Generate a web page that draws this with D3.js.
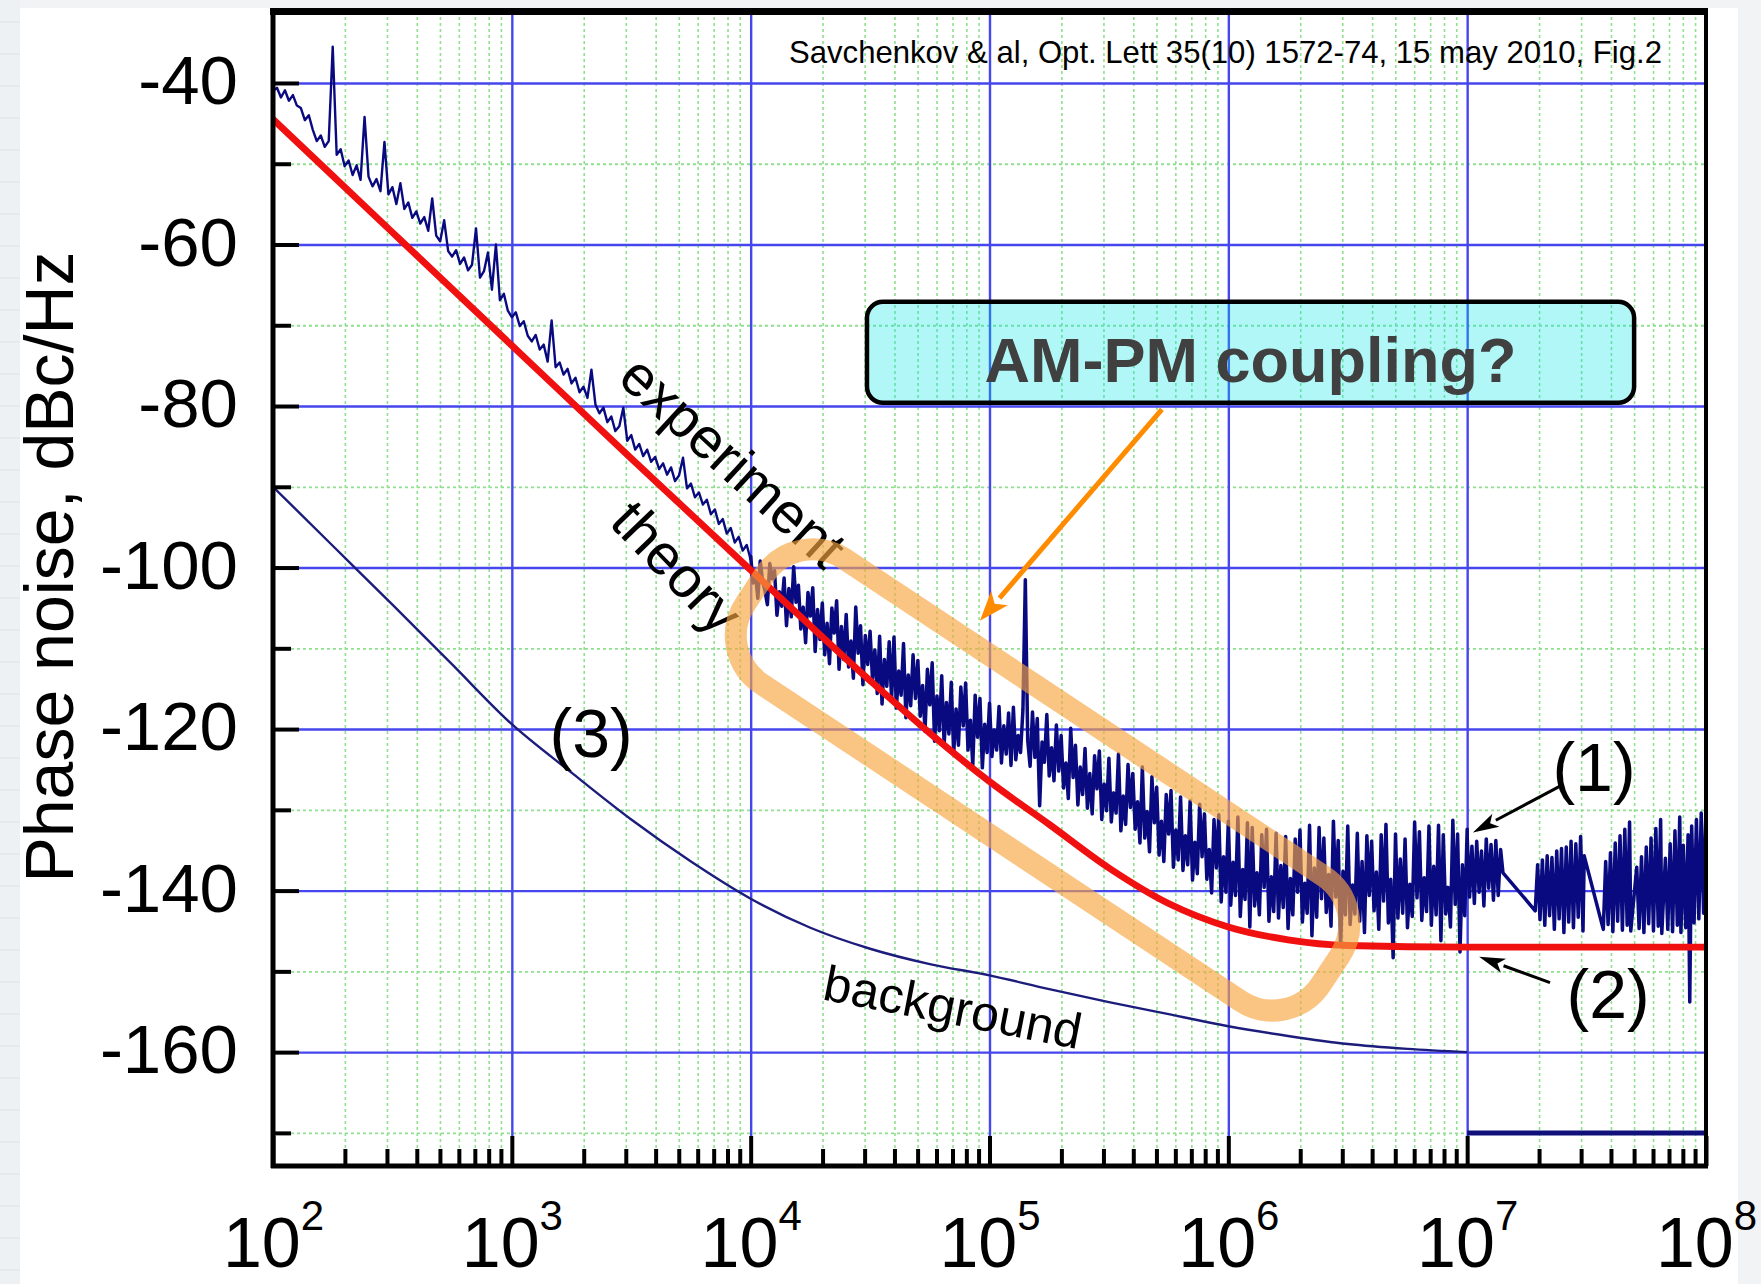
<!DOCTYPE html>
<html>
<head>
<meta charset="utf-8">
<script src="https://cdn.jsdelivr.net/npm/d3@7"></script>
<style>
  html, body { margin: 0; padding: 0; background: #fff; }
  svg { display: block; }
  text { font-family: "Liberation Sans", Arial, Helvetica, sans-serif; }
</style>
</head>
<body>
<svg id="chart" width="1761" height="1284"></svg>
<script>
// ---------------- data ----------------
// frequency axis (Hz), one label per decade
const freqDecades = [1e2, 1e3, 1e4, 1e5, 1e6, 1e7, 1e8];
const decadeExponents = ["2", "3", "4", "5", "6", "7", "8"];
// phase-noise axis (dBc/Hz)
const dbMajorTicks = [-40, -60, -80, -100, -120, -140, -160];
const dbMinorTicks = [-50, -70, -90, -110, -130, -150, -170];

// (2) theory: [log10 f, dBc/Hz]
const theoryCurve = [
  [2.0, -44.5], [2.5, -58.5], [3.0, -72.5], [3.5, -86.5], [4.0, -100.3],
  [4.5, -114.0], [4.75, -120.5], [5.0, -126.5], [5.25, -131.8], [5.5, -137.2],
  [5.75, -141.6], [6.0, -144.5], [6.25, -146.1], [6.5, -146.8], [7.0, -147.0], [8.0, -147.0]
];

// (3) measurement background: [log10 f, dBc/Hz]
const backgroundCurve = [
  [2.0, -90.0], [2.25, -97.3], [2.5, -104.6], [2.75, -112.0], [3.0, -119.4],
  [3.25, -125.4], [3.5, -131.2], [3.75, -136.4], [4.0, -141.0], [4.25, -144.6],
  [4.5, -147.2], [4.75, -149.1], [5.0, -150.5], [5.25, -152.2], [5.5, -153.8],
  [5.75, -155.3], [6.0, -156.8], [6.25, -158.0], [6.5, -159.0], [6.75, -159.6], [7.0, -160.0]
];
const backgroundFloor = [[7.0, -170.0], [8.0, -170.0]];

// (1) experiment, 10^2..10^4 Hz, 60 bins per decade
const expLowDb = [
  -41.0, -40.6, -41.8, -40.9, -42.2, -41.5, -42.8, -43.1, -44.6, -44.0,
  -45.8, -47.2, -46.5, -47.9, -47.2, -35.5, -48.9, -48.2, -50.3, -49.6,
  -51.4, -50.2, -52.0, -44.2, -51.6, -52.8, -51.9, -53.4, -47.3, -53.8,
  -52.9, -55.0, -52.4, -55.6, -54.8, -56.7, -55.9, -57.4, -56.6, -58.3,
  -54.3, -58.9, -59.6, -57.0, -60.8, -61.5, -60.7, -62.4, -61.6, -63.2,
  -62.5, -58.0, -64.1, -63.3, -61.0, -65.6, -60.0, -66.9, -66.1, -68.2,
  -69.0, -68.4, -70.1, -69.5, -71.3, -72.0, -71.2, -73.0, -72.4, -74.5,
  -69.4, -75.2, -74.6, -76.1, -75.4, -77.2, -76.5, -78.3, -77.6, -79.0,
  -75.5, -79.8, -80.9, -80.2, -82.0, -81.3, -83.1, -82.5, -80.2, -84.3,
  -83.6, -85.4, -84.7, -86.2, -85.4, -86.9, -86.3, -87.8, -87.1, -88.5,
  -87.6, -89.3, -88.6, -86.4, -90.2, -89.6, -91.3, -90.7, -92.2, -91.6,
  -93.4, -92.8, -94.6, -94.0, -95.8, -95.1, -96.9, -96.2, -97.9, -97.2,
  -99.0
];

// (1) experiment, 10^4..10^7 Hz, 100 bins per decade
const expMidDb = [
  -98.6, -101.9, -100.8, -103.8, -99.2, -101.7, -102.9, -104.6, -99.5, -101.4,
  -100.4, -105.9, -103.0, -104.8, -101.3, -107.2, -102.6, -106.1, -99.9, -104.3,
  -102.2, -107.6, -104.9, -109.3, -103.1, -106.0, -102.5, -110.4, -105.2, -108.9,
  -104.4, -110.8, -106.9, -111.9, -105.0, -108.1, -104.1, -112.6, -107.3, -111.4,
  -105.8, -112.3, -109.1, -113.7, -104.9, -110.6, -107.2, -114.5, -108.4, -112.0,
  -107.9, -113.8, -110.2, -115.6, -108.5, -116.9, -111.4, -114.7, -109.2, -116.3,
  -108.6, -117.4, -112.8, -115.8, -109.4, -118.6, -113.3, -117.1, -110.8, -116.2,
  -111.5, -118.4, -114.6, -120.3, -112.6, -117.0, -111.8, -121.5, -115.9, -120.2,
  -113.4, -121.9, -116.7, -120.6, -114.2, -123.1, -117.5, -122.0, -114.8, -119.6,
  -114.3, -122.6, -118.9, -124.5, -115.8, -121.0, -116.2, -124.8, -119.4, -122.9,
  -116.8, -123.4, -120.1, -122.6, -117.2, -124.2, -119.6, -123.1, -118.0, -124.5,
  -117.3, -123.8, -120.8, -122.9, -117.6, -101.5, -121.4, -124.6, -117.9, -123.5,
  -118.7, -129.5, -121.6, -124.1, -118.2, -125.8, -122.3, -126.4, -119.5, -125.2,
  -120.8, -127.3, -124.2, -128.6, -119.9, -126.0, -122.0, -129.4, -124.7, -128.1,
  -122.4, -129.8, -125.5, -130.5, -123.3, -127.4, -122.7, -131.2, -126.8, -130.1,
  -123.6, -131.5, -127.9, -130.4, -123.1, -132.6, -128.3, -131.8, -124.4, -129.7,
  -125.5, -132.4, -129.0, -134.1, -124.7, -133.5, -130.2, -135.2, -125.9, -131.6,
  -127.2, -135.6, -131.4, -136.4, -128.1, -133.0, -127.6, -137.1, -132.5, -136.2,
  -128.4, -137.5, -133.2, -136.8, -128.9, -138.7, -134.0, -137.9, -129.3, -135.8,
  -130.5, -138.6, -134.9, -140.3, -131.2, -137.2, -130.6, -141.4, -135.8, -140.2,
  -131.4, -141.8, -136.5, -140.6, -130.9, -143.2, -137.4, -141.1, -131.6, -144.5,
  -132.2, -141.9, -137.8, -143.0, -133.1, -139.6, -132.4, -143.8, -138.3, -142.6,
  -132.9, -143.4, -136.9, -142.1, -133.3, -144.7, -138.5, -143.0, -133.6, -140.2,
  -132.5, -143.9, -139.1, -142.8, -131.9, -145.6, -137.2, -143.3, -132.2, -141.0,
  -133.5, -142.7, -138.0, -144.4, -131.4, -140.8, -133.8, -146.9, -137.6, -143.0,
  -132.0, -144.2, -139.3, -142.9, -132.9, -143.8, -136.4, -145.2, -133.2, -140.6,
  -133.9, -142.5, -137.7, -144.8, -133.1, -141.3, -131.8, -144.0, -138.6, -148.3,
  -133.0, -143.4, -136.1, -142.8, -133.6, -144.6, -139.2, -143.2, -131.5, -140.9,
  -132.7, -143.7, -138.4, -142.6, -132.0, -144.3, -137.0, -143.0, -131.9, -146.2,
  -133.1, -142.9, -139.6, -144.5, -131.3, -141.7, -133.0, -147.6, -136.8, -143.1,
  -132.4
];

// (1) experiment, 10^7..10^8 Hz: recorded in bursts, [log10 f, dBc/Hz]
const expHighPts = [
  [7.00, -133.2], [7.01, -140.8], [7.02, -134.5], [7.03, -141.6], [7.04, -133.9],
  [7.05, -140.2], [7.06, -135.1], [7.07, -141.9], [7.08, -133.6], [7.09, -139.7],
  [7.10, -134.3], [7.11, -141.2], [7.12, -133.8], [7.13, -140.6], [7.14, -134.9],
  [7.15, -137.8], [7.285, -142.5],
  [7.295, -136.8], [7.305, -143.6], [7.315, -136.2], [7.325, -144.3], [7.335, -135.7],
  [7.345, -143.1], [7.355, -135.9], [7.365, -144.8], [7.375, -135.1], [7.385, -143.5],
  [7.395, -134.8], [7.405, -145.2], [7.415, -134.6], [7.425, -143.9], [7.435, -133.9],
  [7.445, -144.6], [7.455, -134.2], [7.465, -143.3], [7.475, -133.3], [7.485, -145.0],
  [7.49, -135.7], [7.57, -144.8],
  [7.58, -136.4], [7.59, -144.2], [7.60, -135.3], [7.61, -145.1], [7.62, -134.1],
  [7.63, -143.8], [7.64, -133.2], [7.65, -144.9], [7.66, -132.4], [7.67, -144.3],
  [7.68, -131.5], [7.685, -145.0],
  [7.71, -137.1], [7.72, -144.7], [7.73, -135.8], [7.74, -145.2], [7.75, -134.6],
  [7.76, -144.1], [7.77, -133.5], [7.78, -145.0], [7.79, -132.3], [7.80, -144.4],
  [7.81, -131.2], [7.815, -145.3],
  [7.83, -136.0], [7.84, -144.8], [7.85, -134.2], [7.86, -145.1], [7.87, -132.6],
  [7.88, -144.3], [7.89, -130.9], [7.895, -145.2],
  [7.905, -134.4], [7.915, -144.6], [7.925, -133.1], [7.932, -153.8], [7.94, -132.0],
  [7.95, -144.0], [7.96, -131.2], [7.97, -143.5], [7.98, -130.4], [7.99, -142.8], [8.0, -129.8]
];

// ---------------- layout ----------------
const W = 1761, H = 1284;
const plot = { left: 273, right: 1706, top: 11.5, bottom: 1166 };
const x = d3.scaleLog().domain([1e2, 1e8]).range([plot.left, plot.right]);
const y = d3.scaleLinear().domain([-174.1, -31.15]).range([plot.bottom, plot.top]);
const fx = lg => x(Math.pow(10, lg));
const plotW = plot.right - plot.left, plotH = plot.bottom - plot.top;

const NAVY = "#0a0a80";
const svg = d3.select("#chart");

// page backdrop
svg.append("rect").attr("width", W).attr("height", H).attr("fill", "#ffffff");
svg.append("rect").attr("x", 0).attr("y", 0).attr("width", 20).attr("height", H).attr("fill", "#eef1f4");
svg.append("g").selectAll("line").data(d3.range(22, H, 32)).join("line")
  .attr("x1", 0).attr("x2", 20).attr("y1", d => d).attr("y2", d => d)
  .attr("stroke", "#e0e6eb").attr("stroke-width", 1.5);
svg.append("rect").attr("x", 20).attr("y", 0).attr("width", W - 20).attr("height", 8).attr("fill", "#f1f3f5");
svg.append("rect").attr("x", 1738).attr("y", 0).attr("width", W - 1738).attr("height", H).attr("fill", "#f1f3f5");

// minor tick positions: 2..9 x each decade
const minorX = [];
for (let e = 2; e < 8; e++) for (let k = 2; k <= 9; k++) minorX.push(k * Math.pow(10, e));

// ---------- grid ----------
const grid = svg.append("g");
function gridX(values, color, width, dash) {
  grid.append("g").attr("transform", `translate(0,${plot.bottom})`)
    .call(d3.axisBottom(x).tickValues(values).tickSize(-plotH).tickFormat(""))
    .call(g => g.select(".domain").remove())
    .selectAll("line").attr("stroke", color).attr("stroke-width", width).attr("stroke-dasharray", dash);
}
function gridY(values, color, width, dash) {
  grid.append("g").attr("transform", `translate(${plot.left},0)`)
    .call(d3.axisLeft(y).tickValues(values).tickSize(-plotW).tickFormat(""))
    .call(g => g.select(".domain").remove())
    .selectAll("line").attr("stroke", color).attr("stroke-width", width).attr("stroke-dasharray", dash);
}
gridX(minorX, "#8fe08f", 1.6, "3,3");
gridY(dbMinorTicks, "#8fe08f", 1.8, "3,3");
gridX(freqDecades, "#4646ee", 2.4, null);
gridY(dbMajorTicks, "#4646ee", 2.4, null);

// ---------- curves ----------
svg.append("clipPath").attr("id", "plotClip")
  .append("rect").attr("x", plot.left).attr("y", plot.top).attr("width", plotW).attr("height", plotH);
const data = svg.append("g").attr("clip-path", "url(#plotClip)");
const lineLg = d3.line().x(d => fx(d[0])).y(d => y(d[1]));
const smoothLg = d3.line().x(d => fx(d[0])).y(d => y(d[1])).curve(d3.curveMonotoneX);

data.append("path").attr("d", smoothLg(backgroundCurve))
  .attr("fill", "none").attr("stroke", "#1c1c7c").attr("stroke-width", 2.4);
data.append("path").attr("d", lineLg(backgroundFloor))
  .attr("fill", "none").attr("stroke", "#10107a").attr("stroke-width", 5);

// low-frequency part: single resolved trace
const expLowPts = expLowDb.map((v, i) => [2 + i / 60, v]);
// above 10 kHz: dense noise band
const expBandPts = expMidDb.map((v, j) => [4 + j / 100, v]).concat(expHighPts);
data.append("path").attr("d", lineLg(expLowPts))
  .attr("fill", "none").attr("stroke", NAVY).attr("stroke-width", 2.4)
  .attr("stroke-linejoin", "round");
data.append("path").attr("d", lineLg([expLowPts[expLowPts.length - 1]].concat(expBandPts)))
  .attr("fill", "none").attr("stroke", NAVY).attr("stroke-width", 3.5)
  .attr("stroke-linejoin", "round");

data.append("path").attr("d", smoothLg(theoryCurve))
  .attr("fill", "none").attr("stroke", "#f01010").attr("stroke-width", 6.8);

// ---------- axes ----------
const axes = svg.append("g");
function styleTicks(g) {
  g.select(".domain").remove();
  g.selectAll(".tick line").attr("stroke", "#000").attr("stroke-width", 4);
}
// bottom
axes.append("g").attr("transform", `translate(0,${plot.bottom})`)
  .call(d3.axisBottom(x).tickValues(minorX).tickSize(-17).tickFormat(""))
  .call(styleTicks);
const bottomAxis = axes.append("g").attr("transform", `translate(0,${plot.bottom})`)
  .call(d3.axisBottom(x).tickValues(freqDecades).tickSize(-30).tickFormat(""))
  .call(styleTicks);
bottomAxis.selectAll(".tick text").each(function (d, i) {
  const t = d3.select(this).attr("y", 101).attr("dy", 0)
    .attr("fill", "#000").attr("font-size", 70).attr("text-anchor", "middle");
  t.text(null);
  t.append("tspan").text("10");
  t.append("tspan").attr("dy", -37).attr("font-size", 42).text(decadeExponents[i]);
});
// left
axes.append("g").attr("transform", `translate(${plot.left},0)`)
  .call(d3.axisLeft(y).tickValues(dbMinorTicks).tickSize(-18).tickFormat(""))
  .call(styleTicks);
axes.append("g").attr("transform", `translate(${plot.left},0)`)
  .call(d3.axisLeft(y).tickValues(dbMajorTicks).tickSize(-26).tickPadding(35).tickFormat(d => String(d)))
  .call(styleTicks)
  .call(g => g.selectAll(".tick text").attr("font-size", 69).attr("fill", "#000").attr("dy", "0.3em"));

// frame
axes.append("line").attr("x1", plot.left - 3).attr("x2", plot.right + 2).attr("y1", plot.top).attr("y2", plot.top)
  .attr("stroke", "#000").attr("stroke-width", 7);
axes.append("line").attr("x1", plot.left - 2).attr("x2", plot.right + 2).attr("y1", plot.bottom).attr("y2", plot.bottom)
  .attr("stroke", "#000").attr("stroke-width", 5);
axes.append("line").attr("x1", plot.left).attr("x2", plot.left).attr("y1", plot.top).attr("y2", plot.bottom + 2)
  .attr("stroke", "#000").attr("stroke-width", 5);
axes.append("line").attr("x1", plot.right).attr("x2", plot.right).attr("y1", plot.top).attr("y2", plot.bottom + 2)
  .attr("stroke", "#000").attr("stroke-width", 4);

// axis title
svg.append("text").attr("transform", `translate(73,567) rotate(-90)`)
  .attr("text-anchor", "middle").attr("font-size", 68).attr("fill", "#000")
  .text("Phase noise, dBc/Hz");

// ---------- annotations (placed in data coordinates) ----------
const notes = svg.append("g");
function label(lg, db, angle, size, txt, shift) {
  notes.append("text")
    .attr("transform", `translate(${fx(lg)},${y(db)}) rotate(${angle})`)
    .attr("text-anchor", "middle").attr("dy", shift).attr("font-size", size).attr("fill", "#000")
    .text(txt);
}
label(3.913, -87.3, 42.5, 57, "experiment", "0.26em");
label(3.692, -99.9, 46, 57, "theory", "0.35em");
label(4.847, -154.4, 11, 50, "background", "0.35em");
label(3.332, -120.96, 0, 68, "(3)", "0.3em");
label(7.531, -125.1, 0, 68, "(1)", "0.3em");
label(7.590, -153.3, 0, 68, "(2)", "0.3em");

function arrow(g, lg0, db0, lg1, db1, color, width, headLen, headW) {
  const x0 = fx(lg0), y0 = y(db0), x1 = fx(lg1), y1 = y(db1);
  const ang = Math.atan2(y1 - y0, x1 - x0);
  const bx = x1 - headLen * Math.cos(ang), by = y1 - headLen * Math.sin(ang);
  g.append("line").attr("x1", x0).attr("y1", y0).attr("x2", bx).attr("y2", by)
    .attr("stroke", color).attr("stroke-width", width);
  const px = -Math.sin(ang) * headW / 2, py = Math.cos(ang) * headW / 2;
  const nx = bx + headLen * 0.25 * Math.cos(ang), ny = by + headLen * 0.25 * Math.sin(ang);
  g.append("path").attr("d", `M${x1},${y1}L${bx + px},${by + py}L${nx},${ny}L${bx - px},${by - py}Z`)
    .attr("fill", color);
}
arrow(notes, 7.393, -127.0, 7.024, -132.8, "#000", 3, 26, 15);
arrow(notes, 7.347, -151.4, 7.050, -148.2, "#000", 3, 26, 15);

// rounded highlight around the 10^4..10^6 region
const boxC = [fx(5.222), y(-126.3)];
notes.append("rect")
  .attr("transform", `translate(${boxC[0]},${boxC[1]}) rotate(33.5)`)
  .attr("x", -345).attr("y", -75).attr("width", 690).attr("height", 150).attr("rx", 58).attr("ry", 58)
  .attr("fill", "none").attr("stroke", "#f7a541").attr("stroke-opacity", 0.65).attr("stroke-width", 22);

// callout
const callout = svg.append("g");
callout.append("rect")
  .attr("x", fx(4.487)).attr("y", y(-67.1))
  .attr("width", fx(7.699) - fx(4.487)).attr("height", y(-79.6) - y(-67.1))
  .attr("rx", 16).attr("ry", 16)
  .attr("fill", "#00e6e6").attr("fill-opacity", 0.3).attr("stroke", "#000").attr("stroke-width", 4.5);
callout.append("text").attr("x", (fx(4.487) + fx(7.699)) / 2).attr("y", y(-77.0))
  .attr("text-anchor", "middle").attr("font-size", 63).attr("font-weight", "bold").attr("fill", "#404040")
  .text("AM-PM coupling?");
arrow(callout, 5.722, -80.4, 4.960, -106.6, "#ff8c00", 5, 30, 22);

// reference line
svg.append("text").attr("x", 789).attr("y", 63)
  .attr("font-family", "'Liberation Sans Narrow', 'Arial Narrow', 'Liberation Sans', sans-serif")
  .attr("font-size", 32).attr("fill", "#000")
  .attr("textLength", 873).attr("lengthAdjust", "spacingAndGlyphs")
  .text("Savchenkov & al, Opt. Lett 35(10) 1572-74, 15 may 2010, Fig.2");
</script>
</body>
</html>
